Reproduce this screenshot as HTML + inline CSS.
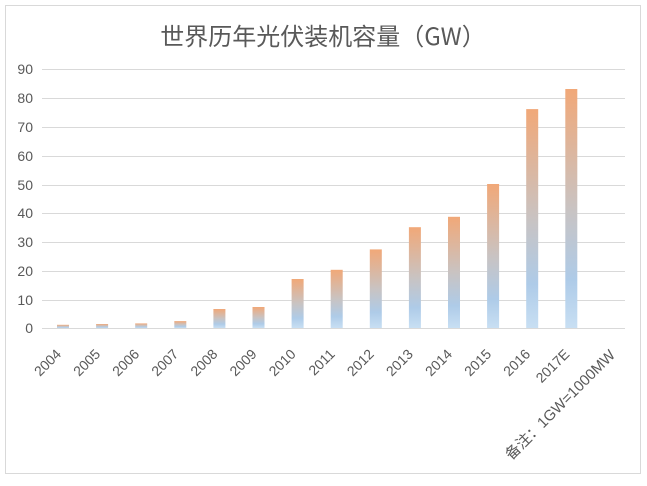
<!DOCTYPE html>
<html><head><meta charset="utf-8"><style>
body{margin:0;background:#fff;}
</style></head><body>
<svg width="647" height="481" xmlns="http://www.w3.org/2000/svg" font-family="'Liberation Sans','Noto Sans CJK SC',sans-serif">
<defs>
<linearGradient id="g" x1="0" y1="0" x2="0" y2="1">
<stop offset="0" stop-color="#f1a878"/>
<stop offset="0.5" stop-color="#c9c3c2"/>
<stop offset="0.8" stop-color="#aecbe8"/>
<stop offset="1" stop-color="#c8dff3"/>
</linearGradient>
</defs>
<rect x="5.5" y="5.5" width="635" height="468" fill="#fff" stroke="#d9d9d9"/>
<text x="323" y="45" text-anchor="middle" font-size="24" fill="#595959" font-family="'Noto Sans CJK SC',sans-serif">世界历年光伏装机容量（GW）</text>
<g stroke="#d9d9d9" stroke-width="1">
<line x1="42" x2="625" y1="69.5" y2="69.5"/><line x1="42" x2="625" y1="98.5" y2="98.5"/><line x1="42" x2="625" y1="127.5" y2="127.5"/><line x1="42" x2="625" y1="156.5" y2="156.5"/><line x1="42" x2="625" y1="185.5" y2="185.5"/><line x1="42" x2="625" y1="213.5" y2="213.5"/><line x1="42" x2="625" y1="242.5" y2="242.5"/><line x1="42" x2="625" y1="271.5" y2="271.5"/><line x1="42" x2="625" y1="300.5" y2="300.5"/><line x1="42" x2="625" y1="328.5" y2="328.5"/>
</g>
<g font-size="14" fill="#595959" text-anchor="end">
<text x="33" y="74">90</text><text x="33" y="103">80</text><text x="33" y="132">70</text><text x="33" y="161">60</text><text x="33" y="190">50</text><text x="33" y="218">40</text><text x="33" y="247">30</text><text x="33" y="276">20</text><text x="33" y="305">10</text><text x="33" y="333">0</text>
</g>
<g fill="url(#g)">
<rect x="57" y="324.8" width="12" height="3.2"/>
<rect x="96.1" y="324" width="12" height="4"/>
<rect x="135.2" y="323.4" width="12" height="4.6"/>
<rect x="174.3" y="321.1" width="12" height="6.9"/>
<rect x="213.4" y="309" width="12" height="19"/>
<rect x="252.5" y="307" width="12" height="21"/>
<rect x="291.6" y="279" width="12" height="49"/>
<rect x="330.7" y="269.8" width="12" height="58.2"/>
<rect x="369.8" y="249.4" width="12" height="78.6"/>
<rect x="408.9" y="227.2" width="12" height="100.8"/>
<rect x="448" y="216.8" width="12" height="111.2"/>
<rect x="487.1" y="184" width="12" height="144"/>
<rect x="526.2" y="109.1" width="12" height="218.9"/>
<rect x="565.3" y="89" width="12" height="239"/>
</g>
<g font-size="14" fill="#595959" text-anchor="end">
<text transform="translate(62,355) rotate(-45)">2004</text>
<text transform="translate(101.1,355) rotate(-45)">2005</text>
<text transform="translate(140.2,355) rotate(-45)">2006</text>
<text transform="translate(179.3,355) rotate(-45)">2007</text>
<text transform="translate(218.4,355) rotate(-45)">2008</text>
<text transform="translate(257.5,355) rotate(-45)">2009</text>
<text transform="translate(296.6,355) rotate(-45)">2010</text>
<text transform="translate(335.7,355) rotate(-45)">2011</text>
<text transform="translate(374.8,355) rotate(-45)">2012</text>
<text transform="translate(413.9,355) rotate(-45)">2013</text>
<text transform="translate(453,355) rotate(-45)">2014</text>
<text transform="translate(492.1,355) rotate(-45)">2015</text>
<text transform="translate(531.2,355) rotate(-45)">2016</text>
<text transform="translate(570.3,355) rotate(-45)">2017E</text>
</g>
<text transform="translate(616,356) rotate(-45)" text-anchor="end" font-size="15" fill="#595959">备注：1GW=1000MW</text>
</svg>
</body></html>
